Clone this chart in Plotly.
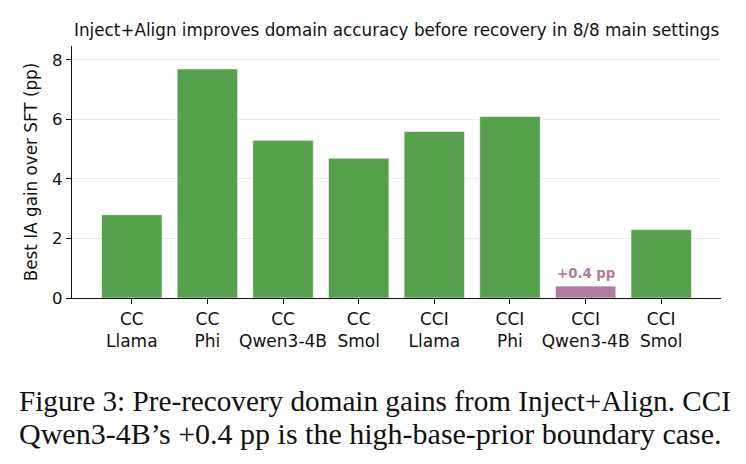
import plotly.graph_objects as go

groups = ["CC", "CC", "CC", "CC", "CCI", "CCI", "CCI", "CCI"]
models = ["Llama", "Phi", "Qwen3-4B", "Smol", "Llama", "Phi", "Qwen3-4B", "Smol"]
gains = [2.8, 7.7, 5.3, 4.7, 5.6, 6.1, 0.4, 2.3]
highlight_index = 6
title_text = "Inject+Align improves domain accuracy before recovery in 8/8 main settings"
ylabel = "Best IA gain over SFT (pp)"
caption_lines = [
    "Figure 3: Pre-recovery domain gains from Inject+Align. CCI",
    "Qwen3-4B\u2019s +0.4 pp is the high-base-prior boundary case.",
]
caption_sizes = [29.2, 30]

GREEN = "#57a14e"
PURPLE = "#b07aa1"

OFF = 8  # page body margin in the browser
W, H = 746 - OFF, 464 - OFF
L, R, T, B = 72 - OFF, 721 - OFF, 46 - OFF, 298 - OFF


def px(xp):
    return (xp - OFF - L) / (R - L)


def py(yp):
    return (B - (yp - OFF)) / (B - T)


x = list(range(len(gains)))
colors = [PURPLE if i == highlight_index else GREEN for i in x]
ticktext = [f"{g}<br>{m}" for g, m in zip(groups, models)]

fig = go.Figure()
fig.add_trace(go.Bar(
    x=x, y=gains, width=0.8,
    marker=dict(color=colors, line=dict(color="rgba(255,255,255,0.6)", width=1)),
    showlegend=False,
))

fig.add_annotation(
    x=highlight_index, y=gains[highlight_index], xref="x", yref="y",
    text=f"<b>+{gains[highlight_index]} pp</b>", showarrow=False,
    yshift=13, font=dict(family="DejaVu Sans", size=13.3, color=PURPLE),
)

fig.add_annotation(
    x=px(396), y=py(30), xref="paper", yref="paper",
    text=title_text, showarrow=False, xanchor="center", yanchor="middle",
    font=dict(family="DejaVu Sans", size=16.8, color="#111111"),
)

for i, line in enumerate(caption_lines):
    fig.add_annotation(
        x=px(17), y=py(401 + i * 33), xref="paper", yref="paper",
        text=line, showarrow=False, xanchor="left", yanchor="middle",
        font=dict(family="Liberation Serif", size=caption_sizes[i], color="#111111"),
    )

fig.update_layout(
    width=W, height=H,
    margin=dict(l=L, r=W - R, t=T, b=H - B, pad=0),
    paper_bgcolor="white", plot_bgcolor="white",
    font=dict(family="DejaVu Sans", size=16.5, color="#111111"),
    bargap=0.2,
)
fig.update_xaxes(
    range=[-0.79, 7.79], tickmode="array", tickvals=x, ticktext=ticktext,
    showline=True, linecolor="#111111", linewidth=1.3,
    ticks="outside", ticklen=5, tickwidth=1.2, tickcolor="#111111",
    showgrid=False, zeroline=False, tickfont=dict(size=17),
)
fig.update_yaxes(
    range=[0, 8.47], tickvals=[0, 2, 4, 6, 8],
    showline=True, linecolor="#111111", linewidth=1.3,
    ticks="outside", ticklen=5, tickwidth=1.2, tickcolor="#111111",
    showgrid=True, gridcolor="#ebebeb", gridwidth=1, zeroline=False,
    title=dict(text=ylabel, font=dict(size=16.8), standoff=10),
    tickfont=dict(size=16.5),
)

fig.write_html("out.html")
